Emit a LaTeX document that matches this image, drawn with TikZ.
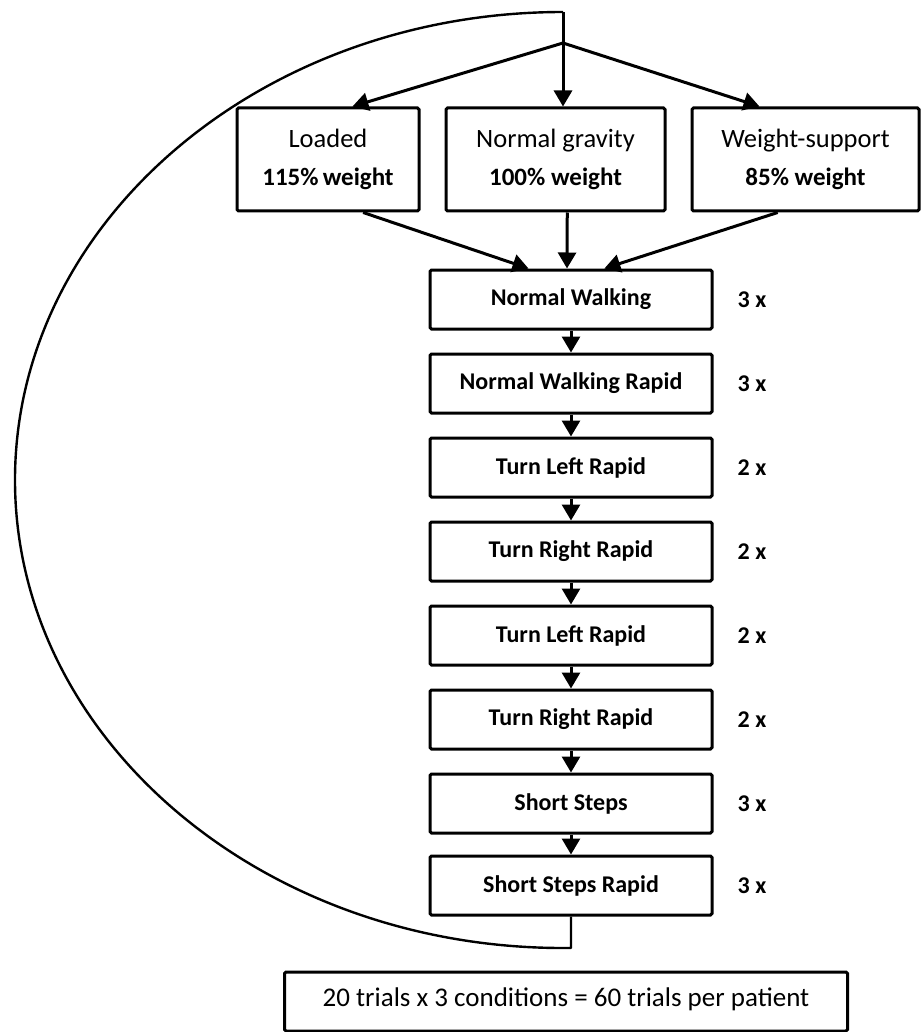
\documentclass[tikz,border=0pt]{standalone}
\usepackage{fontspec}
\setmainfont{Carlito}
\usetikzlibrary{arrows.meta,calc}
\begin{document}
\begin{tikzpicture}[x=1pt,y=-1pt,
  box/.style={draw, line width=3pt, rounded corners=1.5pt, inner sep=0pt, align=center},
  chainbox/.style={box, minimum width=282pt, minimum height=59pt, font=\fontsize{24}{28}\selectfont\bfseries},
  topbox/.style={box, minimum height=103pt, font=\fontsize{26.5}{30}\selectfont},
  arr/.style={line width=3pt, -{Triangle[length=16pt,width=18pt]}},
  cnt/.style={font=\fontsize{24}{28}\selectfont\bfseries, inner sep=0pt},
  loopline/.style={line width=2.4pt}]
\useasboundingbox (0,0) rectangle (920,1032);
\fill[white] (0,0) rectangle (920,1032);

% top condition boxes
\node[topbox, minimum width=182pt] (loaded) at (328,159.5)
  {Loaded\\[8pt]{\fontsize{25}{30}\selectfont\bfseries 115\%\,weight}};
\node[topbox, minimum width=219pt] (ng) at (555.5,159.5)
  {Normal gravity\\[8pt]{\fontsize{25}{30}\selectfont\bfseries 100\% weight}};
\node[topbox, minimum width=227pt] (ws) at (805.5,159.5)
  {Weight-support\\[8pt]{\fontsize{25}{30}\selectfont\bfseries 85\% weight}};

% chain
\node[chainbox] (b1) at (571,299.5) {Normal Walking};
\node[chainbox] (b2) at (571,383.5) {Normal Walking Rapid};
\node[chainbox] (b3) at (571,467.5) {Turn Left Rapid};
\node[chainbox] (b4) at (571,551.5) {Turn Right Rapid};
\node[chainbox] (b5) at (571,635.5) {Turn Left Rapid};
\node[chainbox] (b6) at (571,719.5) {Turn Right Rapid};
\node[chainbox] (b7) at (571,803.5) {Short Steps};
\node[chainbox] (b8) at (571,885.5) {Short Steps Rapid};

% repetition counts
\node[cnt] (c1) at (752,299.5) {3 x};
\node[cnt] (c2) at (752,383.5) {3 x};
\node[cnt] (c3) at (752,467.5) {2 x};
\node[cnt] (c4) at (752,551.5) {2 x};
\node[cnt] (c5) at (752,635.5) {2 x};
\node[cnt] (c6) at (752,719.5) {2 x};
\node[cnt] (c7) at (752,803.5) {3 x};
\node[cnt] (c8) at (752,885.5) {3 x};

% summary box
\node[box, minimum width=563pt, minimum height=59pt, font=\fontsize{27}{32}\selectfont] (sum) at (566,1001.5)
  {20 trials x 3 conditions = 60 trials per patient\rule[-9pt]{0pt}{0pt}};

% distribution from top
\coordinate (top) at (563,12);
\coordinate (hub) at (563,43);
\draw[line width=3pt] (top) -- (hub);
\draw[arr] (hub) -- (top |- ng.north);
\draw[arr] (hub) -- ($(loaded.north west)!0.632!(loaded.north east)$);
\draw[arr] (hub) -- ($(ws.north west)!0.30!(ws.north east)$);

% into Normal Walking
\draw[arr] ($(loaded.south west)!0.69!(loaded.south east)$) -- ($(b1.north west)!0.351!(b1.north east)$);
\draw[arr] ($(ng.south west)!0.553!(ng.south east)$) -- ($(b1.north west)!0.486!(b1.north east)$);
\draw[arr] ($(ws.south west)!0.379!(ws.south east)$) -- ($(b1.north west)!0.617!(b1.north east)$);

% chain arrows
\foreach \a/\b in {b1/b2,b2/b3,b3/b4,b4/b5,b5/b6,b6/b7,b7/b8}
  \draw[arr] (\a.south) -- (\b.north);

% loop back
\coordinate (loopb) at (571,948);
\draw[loopline, line join=round] (b8.south) -- (loopb) -- (563,948)
  .. controls (261.4,948) and (15,738.5) .. (15,480)
  .. controls (15,221.5) and (261.4,12) .. (top);
\end{tikzpicture}
\end{document}
